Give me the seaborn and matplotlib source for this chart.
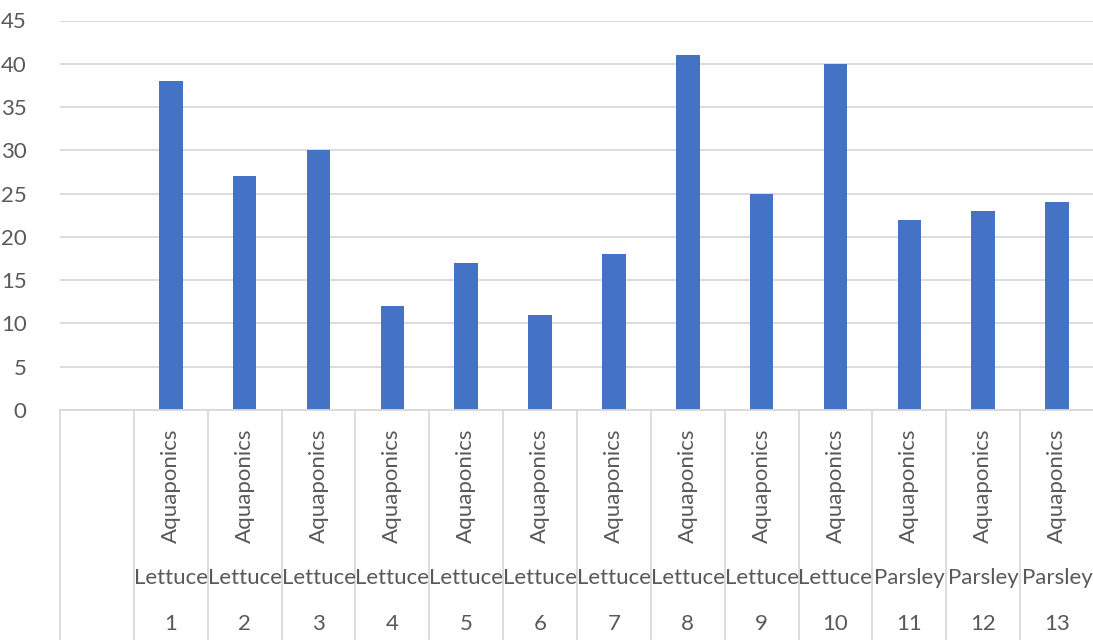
import matplotlib
matplotlib.use("Agg")
import matplotlib.pyplot as plt
import seaborn as sns
import pandas as pd

numbers = ["1", "2", "3", "4", "5", "6", "7", "8", "9", "10", "11", "12", "13"]
crops = ["Lettuce"] * 10 + ["Parsley"] * 3
systems = ["Aquaponics"] * 13
values = [38, 27, 30, 12, 17, 11, 18, 41, 25, 40, 22, 23, 24]
yticks = [0, 5, 10, 15, 20, 25, 30, 35, 40, 45]

sns.set_theme(style="white")
plt.rcParams["font.family"] = ["Lato", "DejaVu Sans"]

df = pd.DataFrame({"num": numbers, "value": values})

fig = plt.figure(figsize=(10.93, 6.40), dpi=100)
ax = fig.add_axes([60 / 1093, 1 - 410 / 640, 1034 / 1093, (410 - 20.5) / 640])

sns.barplot(data=df, x="num", y="value", order=numbers, color="#4472C4",
            width=0.32, saturation=1, ax=ax, edgecolor="none")

ax.set_xlim(-1.5, len(numbers) - 0.5)
ax.set_ylim(0, 45)
ax.set_yticks(yticks)
ax.set_yticklabels([str(t) for t in yticks])
ax.yaxis.grid(True, color="#D9D9D9", linewidth=1.3)
ax.set_axisbelow(True)
for s in ["top", "right", "left"]:
    ax.spines[s].set_visible(False)
ax.spines["bottom"].set_color("#D9D9D9")
ax.spines["bottom"].set_linewidth(1.3)
ax.tick_params(axis="y", length=0, pad=24, labelsize=16, labelcolor="#595959")
ax.tick_params(axis="x", length=0, labelbottom=False)
ax.set_xlabel("")
ax.set_ylabel("")

trans = ax.get_xaxis_transform()
h = (410 - 20.5)
def ay(py):
    return (410 - py) / h

# separators
for i in range(-1, len(numbers)):
    ax.plot([i - 0.5, i - 0.5], [0, ay(640)], transform=trans, color="#D9D9D9",
            linewidth=1.3, clip_on=False)

for i, (n, c, s) in enumerate(zip(numbers, crops, systems)):
    ax.text(i, ay(486), s, transform=trans, rotation=90, ha="center", va="center",
            fontsize=16, color="#595959")
    ax.text(i, ay(578), c, transform=trans, ha="center", va="center",
            fontsize=16, color="#595959")
    ax.text(i, ay(624), n, transform=trans, ha="center", va="center",
            fontsize=16, color="#595959")

fig.savefig("out.png", dpi=100, facecolor="white")
